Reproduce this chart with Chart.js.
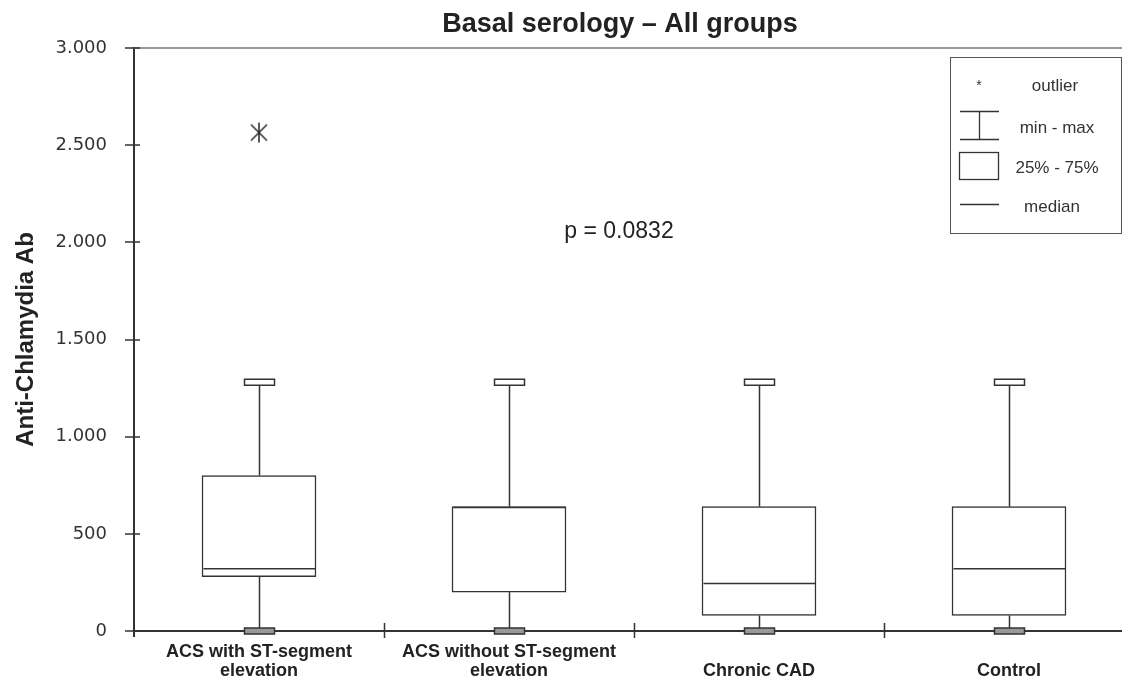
<!DOCTYPE html>
<html>
<head>
<meta charset="utf-8">
<script src="https://cdn.jsdelivr.net/npm/chart.js@4.4.1/dist/chart.umd.min.js"></script>
<style>
  body { margin: 0; background: #fff; }
  #wrap { width: 1122px; height: 684px; }
</style>
</head>
<body>
<div id="wrap"><canvas id="boxChart" width="1122" height="684"></canvas></div>
<script>
// groups on the x axis, one array entry per label line
const groups = [
  ['ACS with ST-segment', 'elevation'],
  ['ACS without ST-segment', 'elevation'],
  ['Chronic CAD'],
  ['Control']
];
const minVals = [0, 0, 0, 0];
const q1Vals = [280, 200, 80, 80];
const medianVals = [320, 635, 245, 320];
const q3Vals = [800, 640, 640, 640];
const maxVals = [1280, 1280, 1280, 1280];
const outlierGroups = [0];
const outlierVals = [2565];
const yTicks = [0, 500, 1000, 1500, 2000, 2500, 3000];
const legendLabels = ['outlier', 'min - max', '25% - 75%', 'median'];
const pValueText = 'p = 0.0832';
const titleText = 'Basal serology \u2013 All groups';
const yTitle = 'Anti-Chlamydia Ab';

const INK = '#333';
const SANS = '"Liberation Sans", Arial, sans-serif';

// 3.000 style thousands separator
function fmt(v) {
  if (v < 1000) return String(v);
  return Math.floor(v / 1000) + '.' + String(v % 1000).padStart(3, '0');
}

// asterisk used for outliers: vertical bar plus an X
function outlierMark() {
  const c = document.createElement('canvas');
  c.width = 22; c.height = 22;
  const g = c.getContext('2d');
  g.strokeStyle = INK; g.lineWidth = 1.6;
  g.beginPath();
  g.moveTo(11, 1); g.lineTo(11, 21);
  g.moveTo(3, 3); g.lineTo(19, 19);
  g.moveTo(19, 3); g.lineTo(3, 19);
  g.stroke();
  return c;
}

function line(ctx, x1, y1, x2, y2) {
  ctx.beginPath(); ctx.moveTo(x1, y1); ctx.lineTo(x2, y2); ctx.stroke();
}

// top frame line + tick marks that cross the axes
const frame = {
  id: 'frame',
  beforeDatasetsDraw(chart) {
    const {ctx, chartArea: a, scales: {x, y}} = chart;
    ctx.save();
    ctx.strokeStyle = '#999'; ctx.lineWidth = 2;
    line(ctx, a.left, a.top, a.right, a.top);
    ctx.strokeStyle = INK; ctx.lineWidth = 1.5;
    yTicks.forEach(v => {
      const py = Math.round(y.getPixelForValue(v));
      line(ctx, a.left - 9, py, a.left + 6, py);
    });
    for (let i = 0; i < groups.length - 1; i++) {
      const px = Math.round(x.getPixelForValue(i + 0.5)) + 0.5;
      line(ctx, px, a.bottom - 8, px, a.bottom + 7);
    }
    ctx.lineWidth = 2;
    line(ctx, a.left, a.bottom, a.left, a.bottom + 6);
    ctx.restore();
  }
};

// whiskers, caps and medians on top of the IQR bars
const boxParts = {
  id: 'boxParts',
  afterDatasetsDraw(chart) {
    const {ctx, scales: {x, y}} = chart;
    const bars = chart.getDatasetMeta(0).data;
    ctx.save();
    ctx.strokeStyle = INK; ctx.lineWidth = 1.5;
    groups.forEach((g, i) => {
      const cx = Math.round(x.getPixelForValue(i)) + 0.5;
      const half = bars[i].width / 2 - 1;
      const yMax = y.getPixelForValue(maxVals[i]);
      const yMin = y.getPixelForValue(minVals[i]);
      line(ctx, cx, y.getPixelForValue(q3Vals[i]), cx, yMax);
      line(ctx, cx, y.getPixelForValue(q1Vals[i]), cx, yMin);
      const ym = y.getPixelForValue(medianVals[i]);
      line(ctx, cx - half, ym, cx + half, ym);
      [[yMax, '#fff'], [yMin, '#999']].forEach(([py, fill]) => {
        ctx.fillStyle = fill;
        ctx.fillRect(cx - 15, py - 3, 30, 6);
        ctx.strokeRect(cx - 15, py - 3, 30, 6);
      });
    });
    ctx.restore();
  }
};

// title, p value and the key box
const notes = {
  id: 'notes',
  afterDraw(chart) {
    const {ctx} = chart;
    ctx.save();
    ctx.textAlign = 'center';
    ctx.textBaseline = 'alphabetic';
    ctx.fillStyle = '#222';
    ctx.font = 'bold 27px ' + SANS;
    ctx.fillText(titleText, 620, 32);
    ctx.font = '23px ' + SANS;
    ctx.fillText(pValueText, 619, 238);

    // key
    ctx.strokeStyle = '#555'; ctx.lineWidth = 1;
    ctx.strokeRect(950.5, 57.5, 171, 176);
    ctx.fillStyle = INK;
    ctx.font = '14px ' + SANS;
    ctx.fillText('*', 979, 90);
    ctx.font = '17px ' + SANS;
    const ty = [91, 133, 173, 212];
    const tx = [1055, 1057, 1057, 1052];
    legendLabels.forEach((t, i) => ctx.fillText(t, tx[i], ty[i]));
    ctx.strokeStyle = INK; ctx.lineWidth = 1.3;
    line(ctx, 960, 111.5, 999, 111.5);
    line(ctx, 960, 139.5, 999, 139.5);
    line(ctx, 979.5, 111.5, 979.5, 139.5);
    ctx.strokeRect(959.5, 152.5, 39, 27);
    line(ctx, 960, 204.5, 999, 204.5);
    ctx.restore();
  }
};

new Chart(document.getElementById('boxChart'), {
  type: 'bar',
  data: {
    datasets: [
      {
        label: '25% - 75%',
        data: groups.map((g, i) => ({x: i, y: [q1Vals[i], q3Vals[i]]})),
        backgroundColor: '#fff',
        borderColor: INK,
        borderWidth: 1.5,
        borderSkipped: false,
        barThickness: 114
      },
      {
        type: 'scatter',
        label: 'outlier',
        data: outlierGroups.map((g, i) => ({x: g, y: outlierVals[i]})),
        pointStyle: outlierMark(),
        showLine: false
      }
    ]
  },
  options: {
    responsive: false,
    devicePixelRatio: 1,
    animation: false,
    layout: { autoPadding: false, padding: { top: 48, left: 0, right: 0, bottom: 0 } },
    plugins: {
      legend: { display: false },
      title: { display: false },
      tooltip: { enabled: false }
    },
    scales: {
      x: {
        type: 'linear',
        min: -0.5,
        max: 3.452,
        offset: false,
        afterBuildTicks: s => { s.ticks = groups.map((g, i) => ({value: i})); },
        afterFit: s => { s.height = 53; s.paddingLeft = 0; s.paddingRight = 0; },
        grid: { display: false, drawTicks: false },
        border: { display: true, color: INK, width: 2 },
        ticks: {
          autoSkip: false,
          maxRotation: 0,
          padding: 12,
          color: '#222',
          font: { family: SANS, size: 18, weight: 'bold', lineHeight: '19px' },
          callback: (v, i) => groups[i].length > 1 ? groups[i] : ['', ...groups[i]]
        }
      },
      y: {
        min: 0,
        max: 3000,
        afterBuildTicks: s => { s.ticks = yTicks.map(v => ({value: v})); },
        afterFit: s => { s.width = 134; },
        grid: { display: false, drawTicks: false },
        border: { display: true, color: INK, width: 2 },
        ticks: {
          padding: 27,
          color: INK,
          font: { family: '"DejaVu Sans", sans-serif', size: 18 },
          callback: v => fmt(v)
        },
        title: {
          display: true,
          text: yTitle,
          color: '#222',
          padding: { top: 12, bottom: 0 },
          font: { family: SANS, size: 24, weight: 'bold' }
        }
      }
    }
  },
  plugins: [frame, boxParts, notes]
});
</script>
</body>
</html>
